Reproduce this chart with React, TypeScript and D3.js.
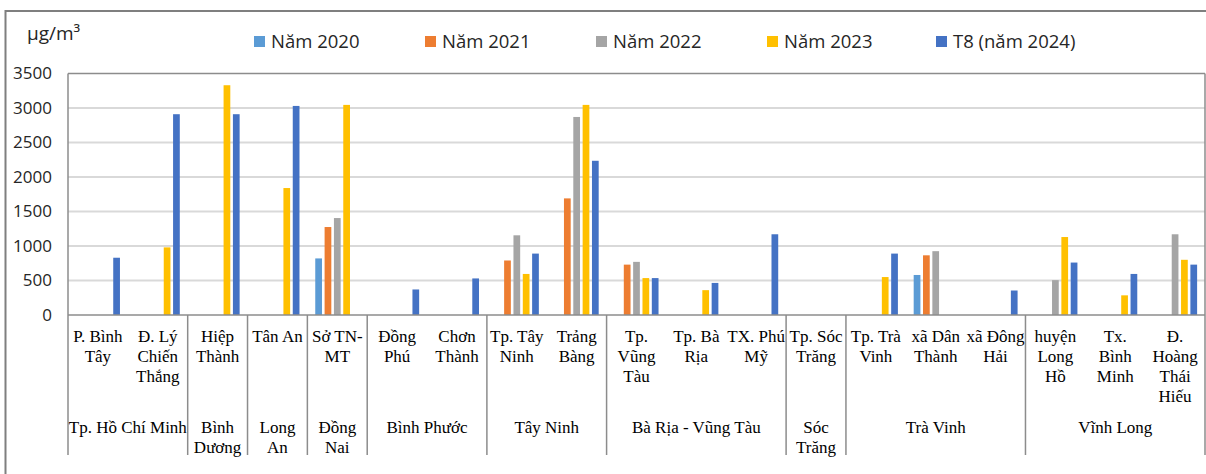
import React from "react";
import * as d3 from "d3";

const stations = [
  "P. Bình\nTây", "Đ. Lý\nChiến\nThắng", "Hiệp\nThành", "Tân An", "Sở TN-\nMT",
  "Đồng\nPhú", "Chơn\nThành", "Tp. Tây\nNinh", "Trảng\nBàng",
  "Tp.\nVũng\nTàu", "Tp. Bà\nRịa", "TX. Phú\nMỹ", "Tp. Sóc\nTrăng",
  "Tp. Trà\nVinh", "xã Dân\nThành", "xã Đông\nHải",
  "huyện\nLong\nHồ", "Tx.\nBình\nMinh", "Đ.\nHoàng\nThái\nHiếu",
];
const provinces = [
  "Tp. Hồ Chí Minh", "Bình\nDương", "Long\nAn", "Đồng\nNai", "Bình Phước",
  "Tây Ninh", "Bà Rịa - Vũng Tàu", "Sóc\nTrăng", "Trà Vinh", "Vĩnh Long",
];
const provinceSizes = [2, 1, 1, 1, 2, 2, 3, 1, 3, 3];

const seriesNames = ["Năm 2020", "Năm 2021", "Năm 2022", "Năm 2023", "T8 (năm 2024)"];
const seriesColors = ["#5B9BD5", "#ED7D31", "#A5A5A5", "#FFC000", "#4472C4"];

const y2020 = [0, 0, 0, 0, 820, 0, 0, 0, 0, 0, 0, 0, 0, 0, 580, 0, 0, 0, 0];
const y2021 = [0, 0, 0, 0, 1275, 0, 0, 790, 1690, 730, 0, 0, 0, 0, 865, 0, 0, 0, 0];
const y2022 = [0, 0, 0, 0, 1405, 0, 0, 1155, 2870, 770, 0, 0, 0, 0, 925, 0, 505, 0, 1170];
const y2023 = [0, 980, 3330, 1840, 3045, 0, 0, 595, 3045, 535, 360, 0, 0, 550, 0, 0, 1130, 285, 800];
const yT8 = [830, 2910, 2910, 3030, 0, 370, 530, 890, 2235, 535, 465, 1170, 0, 890, 0, 355, 760, 595, 730];
const seriesValues = [y2020, y2021, y2022, y2023, yT8];

const yTicks = [0, 500, 1000, 1500, 2000, 2500, 3000, 3500];

const W = 1206, H = 474;
const left = 68, right = 1205, top = 73.5, bottom = 315;
const gray = "#8c8c8c";
const sans = "'Open Sans', 'Noto Sans', sans-serif";
const serif = "'Liberation Serif', 'DejaVu Serif', serif";

export default function App() {
  const idx = stations.map((_, i) => i);
  const x = d3.scaleBand<number>().domain(idx).range([left, right]).padding(0);
  const bw = x.bandwidth();
  const x1 = d3.scaleBand<number>().domain(seriesNames.map((_, i) => i))
    .range([0.11 * bw, 0.89 * bw]).paddingInner(0.28).paddingOuter(0.14);
  const y = d3.scaleLinear().domain([0, 3500]).range([bottom, top]);

  const bounds: { start: number; end: number }[] = [];
  let acc = 0;
  provinceSizes.forEach((n) => { bounds.push({ start: acc, end: acc + n - 1 }); acc += n; });

  const legendX = [254, 425, 596, 767, 936];

  return (
    <svg width={W} height={H} style={{ position: "absolute", left: 0, top: 0, background: "#fff" }}>
      <rect x={5.5} y={11} width={W + 10} height={H + 10} fill="none" stroke="#7f7f7f" strokeWidth={2} />

      {yTicks.filter((t) => t > 0 && t < 3500).map((t) => (
        <line key={t} x1={left} x2={right} y1={y(t)} y2={y(t)} stroke="#d9d9d9" strokeWidth={2} />
      ))}

      {seriesValues.map((vals, s) => (
        <g key={s} fill={seriesColors[s]}>
          {vals.map((v, i) => v > 0 ? (
            <rect key={i} x={(x(i) as number) + (x1(s) as number)} width={x1.bandwidth()}
              y={y(v)} height={y(0) - y(v)} />
          ) : null)}
        </g>
      ))}

      <line x1={left} x2={right} y1={top} y2={top} stroke={gray} strokeWidth={1.5} />
      <line x1={left} x2={left} y1={top} y2={455} stroke={gray} strokeWidth={1.5} />
      <line x1={right} x2={right} y1={top} y2={455} stroke={gray} strokeWidth={1.5} />
      <line x1={left} x2={right} y1={bottom} y2={bottom} stroke={gray} strokeWidth={1.5} />

      {bounds.slice(0, -1).map((b, i) => {
        const xx = (x(b.end) as number) + bw;
        return <line key={i} x1={xx} x2={xx} y1={bottom} y2={455} stroke={gray} strokeWidth={1.5} />;
      })}

      {yTicks.map((t) => (
        <text key={t} x={52} y={y(t)} dy="0.35em" textAnchor="end" fontFamily={sans} fontSize={17} fill="#262626">{t}</text>
      ))}

      <text x={27} y={40} fontFamily={sans} fontSize={19} fill="#262626">μg/m³</text>

      {seriesNames.map((n, s) => (
        <g key={n}>
          <rect x={legendX[s]} y={36} width={11} height={11} fill={seriesColors[s]} />
          <text x={legendX[s] + 17} y={41.5} dy="0.35em" fontFamily={sans} fontSize={18.5} fill="#262626">{n}</text>
        </g>
      ))}

      {stations.map((lab, i) => (
        <text key={i} fontFamily={serif} fontSize={17} fill="#000" textAnchor="middle">
          {lab.split("\n").map((ln, k) => (
            <tspan key={k} x={(x(i) as number) + bw / 2} y={336 + k * 20} dy="0.35em">{ln}</tspan>
          ))}
        </text>
      ))}

      {provinces.map((lab, g) => {
        const b = bounds[g];
        const cx = ((x(b.start) as number) + (x(b.end) as number) + bw) / 2;
        return (
          <text key={g} fontFamily={serif} fontSize={17} fill="#000" textAnchor="middle">
            {lab.split("\n").map((ln, k) => (
              <tspan key={k} x={cx} y={427 + k * 20} dy="0.35em">{ln}</tspan>
            ))}
          </text>
        );
      })}
    </svg>
  );
}
